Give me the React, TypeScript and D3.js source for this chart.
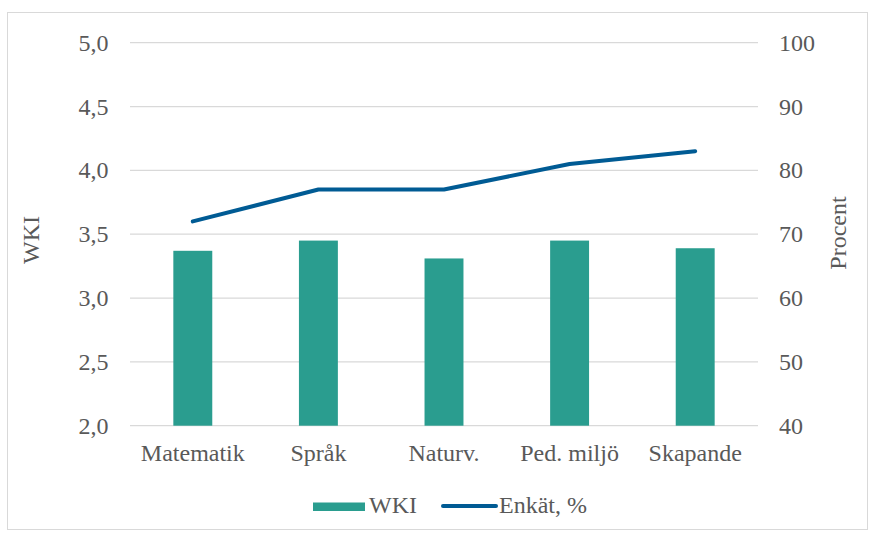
import React from "react";
import * as d3 from "d3";

const categories = ["Matematik", "Språk", "Naturv.", "Ped. miljö", "Skapande"];
const wkiValues = [3.37, 3.45, 3.31, 3.45, 3.39];
const enkatValues = [72, 77, 77, 81, 83];
const leftTicks = [2.0, 2.5, 3.0, 3.5, 4.0, 4.5, 5.0];
const rightTicks = [40, 50, 60, 70, 80, 90, 100];
const seriesNames = ["WKI", "Enkät, %"];

const W = 876;
const H = 534;
const left = 130;
const right = 758;
const top = 42.7;
const bottom = 425.7;
const BAR = "#2a9d8f";
const LINE = "#005b94";
const TXT = "#595959";
const FONT = "Liberation Serif";
const FS = 24;

export default function App() {
  const x = d3.scaleBand<string>().domain(categories).range([left, right]).paddingInner(0.69).paddingOuter(0.345);
  const xc = (c: string) => (x(c) as number) + x.bandwidth() / 2;
  const yL = d3.scaleLinear().domain([2, 5]).range([bottom, top]);
  const yR = d3.scaleLinear().domain([40, 100]).range([bottom, top]);
  const line = d3
    .line<number>()
    .x((_, i) => xc(categories[i]))
    .y((d) => yR(d));
  const fmt = (v: number) => v.toFixed(1).replace(".", ",");
  const ts: React.CSSProperties = { fontFamily: FONT, fontSize: FS, fill: TXT };

  return (
    <div style={{ position: "absolute", left: 0, top: 0 }}>
      <svg width={W} height={H} style={{ display: "block", background: "#fff" }}>
        <rect x={7.5} y={12.5} width={860} height={517} fill="#fff" stroke="#d9d9d9" />
        {leftTicks.map((t) => (
          <line key={t} x1={left} x2={right} y1={yL(t)} y2={yL(t)} stroke="#d9d9d9" strokeWidth={1.3} />
        ))}
        {leftTicks.map((t) => (
          <text key={t} x={108.5} y={yL(t) + 8} textAnchor="end" style={ts}>
            {fmt(t)}
          </text>
        ))}
        {rightTicks.map((t) => (
          <text key={t} x={779} y={yR(t) + 8} textAnchor="start" style={ts}>
            {t}
          </text>
        ))}
        {categories.map((c, i) => (
          <rect key={c} x={x(c)} y={yL(wkiValues[i])} width={x.bandwidth()} height={bottom - yL(wkiValues[i])} fill={BAR} />
        ))}
        <path d={line(enkatValues) || ""} fill="none" stroke={LINE} strokeWidth={4} strokeLinecap="round" strokeLinejoin="round" />
        {categories.map((c) => (
          <text key={c} x={xc(c)} y={461} textAnchor="middle" style={ts}>
            {c}
          </text>
        ))}
        <text transform={`translate(31,240) rotate(-90)`} textAnchor="middle" dy="0.33em" style={ts}>
          WKI
        </text>
        <text transform={`translate(838,233) rotate(-90)`} textAnchor="middle" dy="0.33em" style={ts}>
          Procent
        </text>
        <g>
          <rect x={313} y={502.5} width={52} height={8.5} fill={BAR} />
          <text x={369} y={513} style={ts}>
            {seriesNames[0]}
          </text>
          <line x1={443} x2={496} y1={506} y2={506} stroke={LINE} strokeWidth={4} strokeLinecap="round" />
          <text x={499} y={513} style={ts}>
            {seriesNames[1]}
          </text>
        </g>
      </svg>
    </div>
  );
}
